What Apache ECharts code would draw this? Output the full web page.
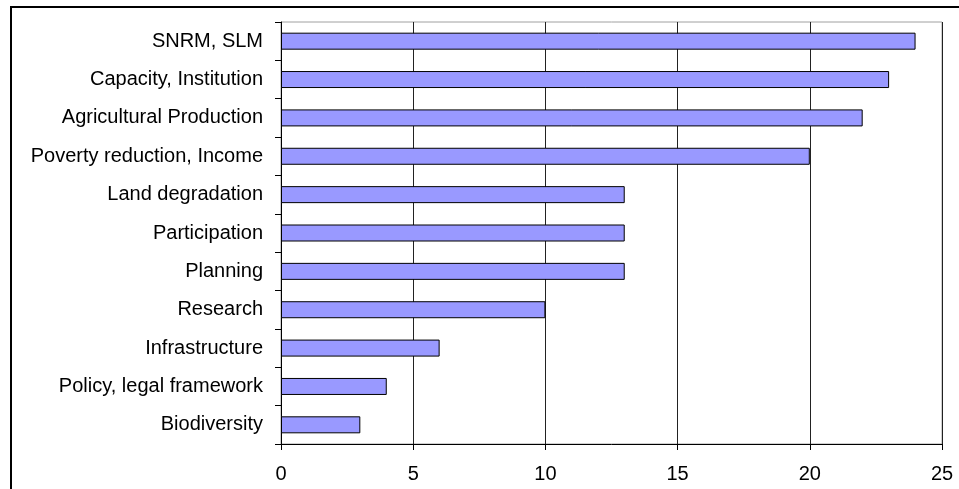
<!DOCTYPE html>
<html>
<head>
<meta charset="utf-8">
<script src="https://cdn.jsdelivr.net/npm/echarts@6/dist/echarts.min.js"></script>
<style>
  html, body { margin: 0; padding: 0; background: #fff; }
  #chart { width: 959px; height: 489px; }
</style>
</head>
<body>
<div id="chart"></div>
<script>
// topics, top to bottom
var categories = ['SNRM, SLM', 'Capacity, Institution', 'Agricultural Production',
  'Poverty reduction, Income', 'Land degradation', 'Participation', 'Planning',
  'Research', 'Infrastructure', 'Policy, legal framework', 'Biodiversity'];
var counts = [24, 23, 22, 20, 13, 13, 13, 10, 6, 4, 3];
var xTicks = [0, 5, 10, 15, 20, 25];

var myChart = echarts.init(document.getElementById('chart'));
myChart.setOption({
  animation: false,
  backgroundColor: '#fff',
  textStyle: { fontFamily: 'Liberation Sans, Arial, sans-serif' },
  graphic: [{
    type: 'rect',
    shape: { x: 11, y: 7, width: 1000, height: 600 },
    style: { fill: 'none', stroke: '#000', lineWidth: 2 },
    z: 100
  }],
  grid: {
    left: 281, top: 22, right: 17, bottom: 45,
    show: true, borderColor: '#a0a0a0', borderWidth: 1
  },
  xAxis: {
    type: 'value',
    min: xTicks[0], max: xTicks[xTicks.length - 1], interval: 5,
    axisLine: { show: true, lineStyle: { color: '#000', width: 1 } },
    axisTick: { show: true, length: 6, lineStyle: { color: '#000' } },
    axisLabel: { color: '#000', fontSize: 20, margin: 20 },
    splitLine: { show: true, lineStyle: { color: '#222', width: 1 } }
  },
  yAxis: {
    type: 'category',
    data: categories,
    inverse: true,
    axisLine: { show: true, lineStyle: { color: '#000', width: 1 } },
    axisTick: { show: true, length: 6, lineStyle: { color: '#000' } },
    axisLabel: { color: '#000', fontSize: 20, margin: 18 },
    splitLine: { show: false }
  },
  series: [{
    type: 'bar',
    data: counts,
    barWidth: 17,
    itemStyle: { color: '#9999ff', borderColor: '#000', borderWidth: 1 }
  }]
});
</script>
</body>
</html>
